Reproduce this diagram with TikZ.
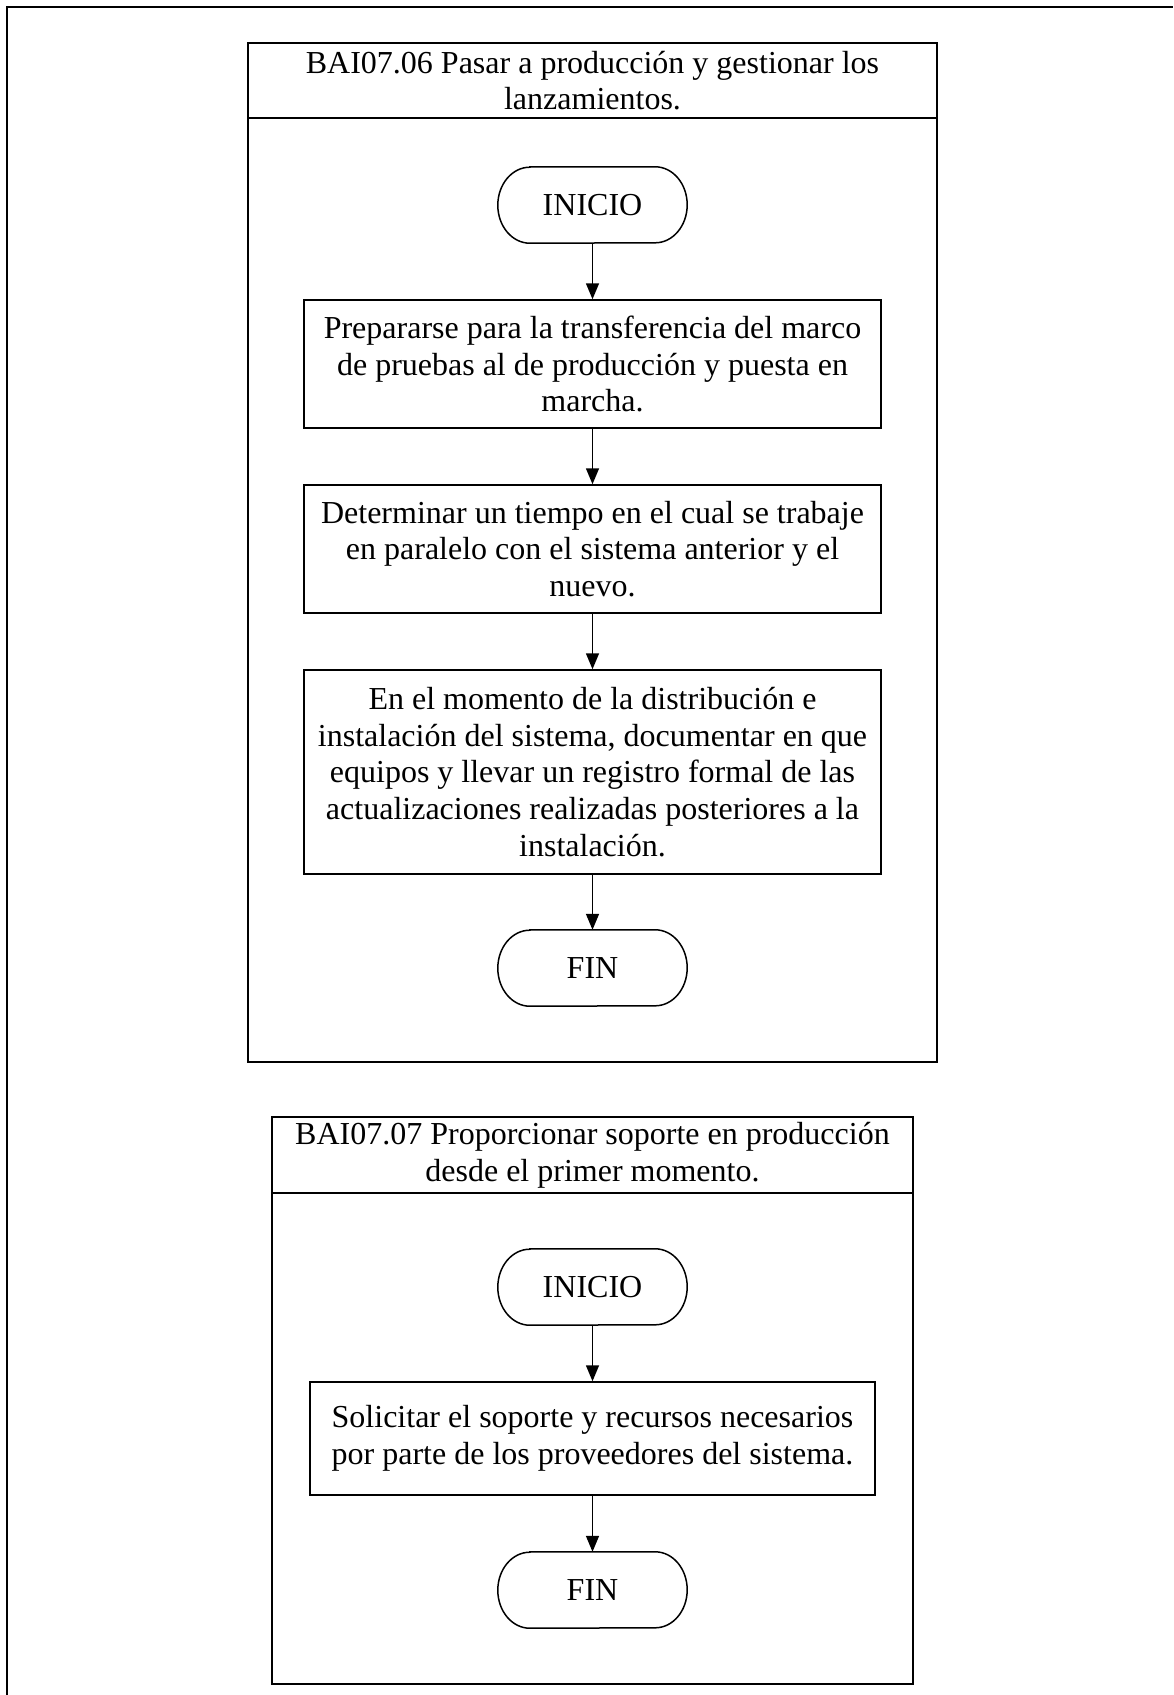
\documentclass[tikz,border=0pt]{standalone}
\usepackage{fontspec}
\setmainfont{Liberation Serif}
\usetikzlibrary{arrows.meta}
\begin{document}
\begin{tikzpicture}[x=1pt,y=-1pt,
  every node/.style={font=\fontsize{32}{36.7}\selectfont, align=center, inner sep=0pt},
  line/.style={line width=1.5pt, black},
  frame/.style={line, draw, rectangle},
  procbox/.style={line, draw, rectangle, minimum width=577pt},
  terminal/.style={minimum width=189pt, minimum height=76pt},
  edge/.style={line, -{Triangle[length=16pt,width=13pt]}}
]
\useasboundingbox (0,0) rectangle (1173,1695);
% outer page frame (left and top edges)
\draw[line width=1.7pt] (6.7,1695) -- (6.7,6.7) -- (1173,6.7);

% ---- BAI07.06 ----
\node[frame, minimum width=689pt, minimum height=75pt] (hdr1) at (592.5,80.5)
  {BAI07.06 Pasar a producción y gestionar los\\lanzamientos.};
\node[frame, minimum width=689pt, minimum height=944pt] (body1) at (592.5,590) {};
\node[terminal] (ini1) at (592.5,205) {INICIO};
\node[procbox, minimum height=128pt] (p1) at (592.5,364)
  {Prepararse para la transferencia del marco\\de pruebas al de producción y puesta en\\marcha.};
\node[procbox, minimum height=128pt] (p2) at (592.5,549)
  {Determinar un tiempo en el cual se trabaje\\en paralelo con el sistema anterior y el\\nuevo.};
\node[procbox, minimum height=204pt] (p3) at (592.5,772)
  {En el momento de la distribución e\\instalación del sistema, documentar en que\\equipos y llevar un registro formal de las\\actualizaciones realizadas posteriores a la\\instalación.};
\node[terminal] (fin1) at (592.5,968) {FIN};

% ---- BAI07.07 ----
\node[frame, minimum width=641pt, minimum height=76pt] (hdr2) at (592.5,1155)
  {BAI07.07 Proporcionar soporte en producción\\desde el primer momento.};
\node[frame, minimum width=641pt, minimum height=491pt] (body2) at (592.5,1438.5) {};
\node[terminal] (ini2) at (592.5,1287) {INICIO};
\node[procbox, minimum width=565pt, minimum height=113pt] (p4) at (592.5,1438.5)
  {Solicitar el soporte y recursos necesarios\\por parte de los proveedores del sistema.};
\node[terminal] (fin2) at (592.5,1590) {FIN};

% terminal outlines with elliptical ends
\foreach \n in {ini1,fin1,ini2,fin2}
  \draw[line] ([xshift=32pt]\n.north west) -- ([xshift=-32pt]\n.north east)
    arc[start angle=90,end angle=-90,x radius=32pt,y radius=38pt]
    -- ([xshift=32pt]\n.south west)
    arc[start angle=270,end angle=90,x radius=32pt,y radius=38pt] -- cycle;

% connectors
\draw[edge] (ini1) -- (p1);
\draw[edge] (p1) -- (p2);
\draw[edge] (p2) -- (p3);
\draw[edge] (p3) -- (fin1);
\draw[edge] (ini2) -- (p4);
\draw[edge] (p4) -- (fin2);
\end{tikzpicture}
\end{document}
